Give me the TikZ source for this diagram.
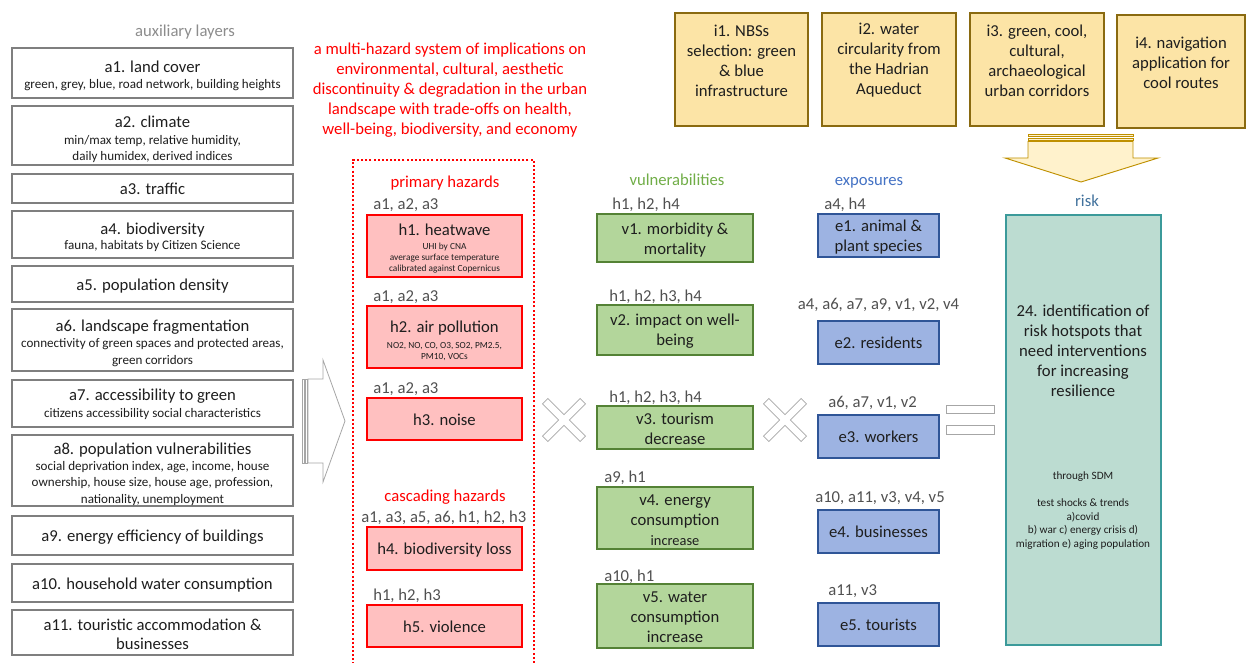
\documentclass[tikz,border=0pt]{standalone}
\usepackage{fontspec}
\setmainfont{Carlito}
\usetikzlibrary{fit}

\definecolor{ink}{HTML}{1E1E1E}
\definecolor{lblgray}{HTML}{505050}
\definecolor{auxgray}{HTML}{8C8C8C}
\definecolor{agray}{HTML}{7F7F7F}
\definecolor{hred}{HTML}{FF0000}
\definecolor{hpink}{HTML}{FFC0C0}
\definecolor{vborder}{HTML}{548235}
\definecolor{vfill}{HTML}{B3D69B}
\definecolor{vtext}{HTML}{70AD47}
\definecolor{eborder}{HTML}{2F5597}
\definecolor{efill}{HTML}{9DB3E2}
\definecolor{etext}{HTML}{4472C4}
\definecolor{rborder}{HTML}{3B9A9A}
\definecolor{rfill}{HTML}{BCDCD1}
\definecolor{rtext}{HTML}{41719C}
\definecolor{iborder}{HTML}{8A6A10}
\definecolor{ifill}{HTML}{FCE4A6}
\definecolor{aborder}{HTML}{BF9000}
\definecolor{afill}{HTML}{FFF2CC}
\definecolor{shapegray}{HTML}{A6A6A6}

\begin{document}
\begin{tikzpicture}[x=0.75pt,y=-0.75pt,
  abox/.style={draw=agray, line width=1.9pt, fill=white, inner sep=0pt},
  hbox/.style={draw=hred, line width=1.7pt, fill=hpink, inner sep=0pt},
  vbox/.style={draw=vborder, line width=1.5pt, fill=vfill, inner sep=0pt},
  ebox/.style={draw=eborder, line width=1.5pt, fill=efill, inner sep=0pt},
  ibox/.style={draw=iborder, line width=2pt, fill=ifill, inner sep=0pt},
  rbox/.style={draw=rborder, line width=1.6pt, fill=rfill, inner sep=0pt},
  ttl/.style={font=\fontsize{12.5}{15}\selectfont, text=ink, inner sep=0pt, align=center,
    text height=1.5ex, text depth=.25ex, yshift=-1.8pt},
  mtxt/.style={font=\fontsize{12.5}{15}\selectfont, text=ink, inner sep=0pt, align=center,
    yshift=-1.2pt},
  subtxt/.style={font=\fontsize{9.8}{12.4}\selectfont, text=ink, inner sep=0pt, align=center,
    yshift=-1pt},
  note/.style={font=\fontsize{7}{8.25}\selectfont, text=ink, inner sep=0pt, align=center,
    yshift=-1.3pt},
  lbl/.style={font=\fontsize{12.5}{15}\selectfont, text=lblgray, inner sep=0pt, anchor=west,
    text height=1.5ex, text depth=.25ex, yshift=-1.8pt},
  colhead/.style={font=\fontsize{12.5}{15}\selectfont, inner sep=0pt,
    text height=1.5ex, text depth=.25ex, yshift=-1.8pt},
  hollow/.style={draw=shapegray, line width=0.6pt, fill=white},
  bigarrow/.style={draw=aborder, line width=0.7pt, fill=afill},
  zone/.style={draw=hred, line width=1.5pt, dash pattern=on 1.5pt off 1.6pt, inner sep=0pt}
]
\useasboundingbox (0,0) rectangle (1248,663);

% ---------- auxiliary layers ----------
\node[colhead, text=auxgray] (auxh) at (185,30) {auxiliary layers};

\node[abox, fit={(12,48)(293,98)}] (a1) {};
\node[ttl] (a1t) at (152.5,66) {a1. land cover};
\node[subtxt] (a1s) at (152.5,84) {green, grey, blue, road network, building heights};

\node[abox, fit={(12,106)(293,165)}] (a2) {};
\node[ttl] (a2t) at (152.5,121) {a2. climate};
\node[subtxt] (a2s) at (152.5,147.5) {min/max temp, relative humidity,\\daily humidex, derived indices};

\node[abox, fit={(12,174)(293,203)}] (a3) {};
\node[ttl] (a3t) at (a3.center) {a3. traffic};

\node[abox, fit={(12,211)(293,258)}] (a4) {};
\node[ttl] (a4t) at (152.5,228) {a4. biodiversity};
\node[subtxt] (a4s) at (152.5,245) {fauna, habitats by Citizen Science};

\node[abox, fit={(12,266)(293,302)}] (a5) {};
\node[ttl] (a5t) at (a5.center) {a5. population density};

\node[abox, fit={(12,309)(293,371)}] (a6) {};
\node[ttl] (a6t) at (152.5,325) {a6. landscape fragmentation};
\node[subtxt] (a6s) at (152.5,351) {connectivity of green spaces and protected areas,\\green corridors};

\node[abox, fit={(12,380)(293,427)}] (a7) {};
\node[ttl] (a7t) at (152.5,394) {a7. accessibility to green};
\node[subtxt] (a7s) at (152.5,413) {citizens accessibility social characteristics};

\node[abox, fit={(12,435)(293,506)}] (a8) {};
\node[ttl] (a8t) at (152.5,448) {a8. population vulnerabilities};
\node[subtxt] (a8s) at (152.5,482) {social deprivation index, age, income, house\\ownership, house size, house age, profession,\\nationality, unemployment};

\node[abox, fit={(12,516)(293,555)}] (a9) {};
\node[ttl] (a9t) at (a9.center) {a9. energy efficiency of buildings};

\node[abox, fit={(12,564)(293,602)}] (a10) {};
\node[ttl] (a10t) at (a10.center) {a10. household water consumption};

\node[abox, fit={(12,610)(293,655)}] (a11) {};
\node[mtxt, font=\fontsize{12.5}{14.3}\selectfont] (a11t) at (152.5,633) {a11. touristic accommodation \&\\businesses};

% striped hollow arrow from the layers into the hazards
\draw[hollow] (302,379) rectangle (304,463);
\draw[hollow] (305.5,379) rectangle (307,463);
\draw[hollow] (308,379) -- (323,379) -- (323,360) -- (345,421) -- (323,482) -- (323,463) -- (308,463) -- cycle;

% ---------- statement ----------
\node[mtxt, text=hred] (stmt) at (450,89)
  {a multi-hazard system of implications on\\environmental, cultural, aesthetic\\discontinuity \& degradation in the urban\\landscape with trade-offs on health,\\well-being, biodiversity, and economy};

% ---------- hazards ----------
\node[zone, fit={(353,160)(534,672)}] (hzone) {};
\node[colhead, text=hred] (phz) at (445,181) {primary hazards};

\node[lbl] (h1l) at (373,203) {a1, a2, a3};
\node[hbox, fit={(367,215)(522,277)}] (h1) {};
\node[ttl] (h1t) at (444.5,229) {h1. heatwave};
\node[note] (h1s) at (444.5,256.5) {UHI by CNA\\average surface temperature\\calibrated against Copernicus};

\node[lbl] (h2l) at (373,295) {a1, a2, a3};
\node[hbox, fit={(367,306)(522,368)}] (h2) {};
\node[ttl] (h2t) at (444.5,326) {h2. air pollution};
\node[note] (h2s) at (444.5,349.5) {NO2, NO, CO, O3, SO2, PM2.5,\\PM10, VOCs};

\node[lbl] (h3l) at (373,387) {a1, a2, a3};
\node[hbox, fit={(367,398)(522,440)}] (h3) {};
\node[ttl] (h3t) at (h3.center) {h3. noise};

\node[colhead, text=hred] (chz) at (445,495) {cascading hazards};

\node[lbl] (h4l) at (361,516) {a1, a3, a5, a6, h1, h2, h3};
\node[hbox, fit={(367,527)(522,570)}] (h4) {};
\node[ttl] (h4t) at (h4.center) {h4. biodiversity loss};

\node[lbl] (h5l) at (373,594) {h1, h2, h3};
\node[hbox, fit={(367,605)(522,647)}] (h5) {};
\node[ttl] (h5t) at (h5.center) {h5. violence};

% multiplication signs
\begin{scope}[shift={(564,420)}]
\draw[hollow] (5.4,0) -- (21.5,16.1) -- (16.1,21.5) -- (0,5.4) -- (-16.1,21.5) -- (-21.5,16.1)
  -- (-5.4,0) -- (-21.5,-16.1) -- (-16.1,-21.5) -- (0,-5.4) -- (16.1,-21.5) -- (21.5,-16.1) -- cycle;
\end{scope}
\begin{scope}[shift={(785,420)}]
\draw[hollow] (5.4,0) -- (21.5,16.1) -- (16.1,21.5) -- (0,5.4) -- (-16.1,21.5) -- (-21.5,16.1)
  -- (-5.4,0) -- (-21.5,-16.1) -- (-16.1,-21.5) -- (0,-5.4) -- (16.1,-21.5) -- (21.5,-16.1) -- cycle;
\end{scope}

% ---------- vulnerabilities ----------
\node[colhead, text=vtext] (vh) at (677,179) {vulnerabilities};

\node[lbl] (v1l) at (612,203) {h1, h2, h4};
\node[vbox, fit={(597,214)(753,262)}] (v1) {};
\node[mtxt] (v1t) at (v1.center) {v1. morbidity \&\\mortality};

\node[lbl] (v2l) at (609,295) {h1, h2, h3, h4};
\node[vbox, fit={(597,305)(753,355)}] (v2) {};
\node[mtxt] (v2t) at (v2.center) {v2. impact on well-\\being};

\node[lbl] (v3l) at (609,396) {h1, h2, h3, h4};
\node[vbox, fit={(597,406)(753,449)}] (v3) {};
\node[mtxt] (v3t) at (v3.center) {v3. tourism\\decrease};

\node[lbl] (v4l) at (604,476) {a9, h1};
\node[vbox, fit={(597,487)(753,549)}] (v4) {};
\node[mtxt] (v4t) at (675,510) {v4. energy\\consumption};
\node[ttl, font=\fontsize{10.8}{13}\selectfont] (v4s) at (675,539) {increase};

\node[lbl] (v5l) at (604,575) {a10, h1};
\node[vbox, fit={(597,584)(753,648)}] (v5) {};
\node[mtxt] (v5t) at (v5.center) {v5. water\\consumption\\increase};

% ---------- exposures ----------
\node[colhead, text=etext] (eh) at (869,179) {exposures};

\node[lbl] (e1l) at (824,203) {a4, h4};
\node[ebox, fit={(818,214)(939,257)}] (e1) {};
\node[mtxt] (e1t) at (e1.center) {e1. animal \&\\plant species};

\node[lbl, anchor=center] (e2l) at (878.5,303) {a4, a6, a7, a9, v1, v2, v4};
\node[ebox, fit={(818,321)(939,364)}] (e2) {};
\node[ttl] (e2t) at (e2.center) {e2. residents};

\node[lbl] (e3l) at (828,401) {a6, a7, v1, v2};
\node[ebox, fit={(818,415)(939,458)}] (e3) {};
\node[ttl] (e3t) at (e3.center) {e3. workers};

\node[lbl] (e4l) at (815,496) {a10, a11, v3, v4, v5};
\node[ebox, fit={(818,510)(939,553)}] (e4) {};
\node[ttl] (e4t) at (e4.center) {e4. businesses};

\node[lbl] (e5l) at (828,589) {a11, v3};
\node[ebox, fit={(818,603)(939,646)}] (e5) {};
\node[ttl] (e5t) at (e5.center) {e5. tourists};

% equals sign
\draw[hollow] (946,405) rectangle (994,413);
\draw[hollow] (946,425) rectangle (994,434);

% ---------- interventions ----------
\node[ibox, fit={(675,13)(808,126)}] (i1) {};
\node[mtxt] (i1t) at (741.5,59) {i1. NBSs\\selection: green\\\& blue\\infrastructure};
\node[ibox, fit={(822,13)(956,126)}] (i2) {};
\node[mtxt] (i2t) at (889,59) {i2. water\\circularity from\\the Hadrian\\Aqueduct};
\node[ibox, fit={(970,13)(1104,126)}] (i3) {};
\node[mtxt] (i3t) at (1037,59) {i3. green, cool,\\cultural,\\archaeological\\urban corridors};
\node[ibox, fit={(1117,15)(1245,128)}] (i4) {};
\node[mtxt] (i4t) at (1181,61) {i4. navigation\\application for\\cool routes};

% striped down arrow into the risk
\draw[bigarrow] (1028,134) rectangle (1133,136.2);
\draw[bigarrow] (1028,138) rectangle (1133,140);
\draw[bigarrow] (1028,141.5) -- (1133,141.5) -- (1133,158) -- (1158,158) -- (1081,182)
  -- (1005,158) -- (1028,158) -- cycle;

% ---------- risk ----------
\node[colhead, text=rtext] (rh) at (1087,200) {risk};
\node[rbox, fit={(1006,215)(1161,645)}] (risk) {};
\node[mtxt] (riskt) at (1083,349)
  {24. identification of\\risk hotspots that\\need interventions\\for increasing\\resilience};
\node[mtxt, font=\fontsize{8.4}{10.1}\selectfont] (risks) at (1083,509)
  {through SDM\\[10.1pt]test shocks \& trends\\a)covid\\b) war c) energy crisis d)\\migration e) aging population};

\end{tikzpicture}
\end{document}
